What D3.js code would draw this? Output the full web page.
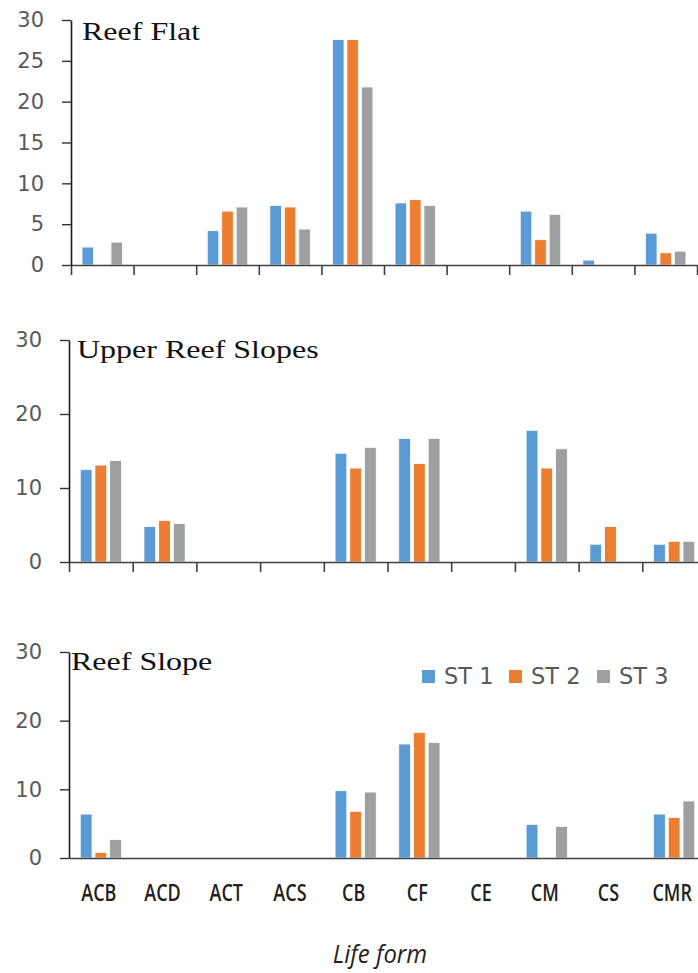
<!DOCTYPE html>
<html>
<head>
<meta charset="utf-8">
<script src="https://cdn.jsdelivr.net/npm/d3@7"></script>
<style>
  html, body { margin: 0; padding: 0; background: #fff; }
  svg { display: block; }
</style>
</head>
<body>
<svg id="chart" width="698" height="973"></svg>
<script>
// ---------------- DATA ----------------
const categories = ["ACB", "ACD", "ACT", "ACS", "CB", "CF", "CE", "CM", "CS", "CMR"];
const seriesNames = ["ST 1", "ST 2", "ST 3"];

const reefFlatST1 = [2.2, 0, 4.2, 7.3, 27.6, 7.6, 0, 6.6, 0.6, 3.9];
const reefFlatST2 = [0, 0, 6.6, 7.1, 27.6, 8.0, 0, 3.1, 0, 1.5];
const reefFlatST3 = [2.8, 0, 7.1, 4.4, 21.8, 7.3, 0, 6.2, 0, 1.7];

const upperSlopeST1 = [12.5, 4.8, 0, 0, 14.7, 16.7, 0, 17.8, 2.4, 2.4];
const upperSlopeST2 = [13.1, 5.6, 0, 0, 12.7, 13.3, 0, 12.7, 4.8, 2.8];
const upperSlopeST3 = [13.7, 5.2, 0, 0, 15.5, 16.7, 0, 15.3, 0, 2.8];

const reefSlopeST1 = [6.4, 0, 0, 0, 9.8, 16.6, 0, 4.9, 0, 6.4];
const reefSlopeST2 = [0.8, 0, 0, 0, 6.8, 18.3, 0, 0, 0, 5.9];
const reefSlopeST3 = [2.7, 0, 0, 0, 9.6, 16.8, 0, 4.6, 0, 8.3];

const panelTitles = ["Reef Flat", "Upper Reef Slopes", "Reef Slope"];
const yTicksFlat = [0, 5, 10, 15, 20, 25, 30];
const yTicksSlope = [0, 10, 20, 30];
const xAxisTitle = "Life form";

// ---------------- LAYOUT ----------------
const colors = ["#5b9bd5", "#ed7d31", "#9d9fa0"];
const panels = [
  { title: panelTitles[0], series: [reefFlatST1, reefFlatST2, reefFlatST3], ticks: yTicksFlat,
    left: 71, right: 697, y0: 265, yTop: 20, xTicks: true, tx: 82, ty: 40 },
  { title: panelTitles[1], series: [upperSlopeST1, upperSlopeST2, upperSlopeST3], ticks: yTicksSlope,
    left: 69, right: 706, y0: 562, yTop: 340, xTicks: true, tx: 77, ty: 358 },
  { title: panelTitles[2], series: [reefSlopeST1, reefSlopeST2, reefSlopeST3], ticks: yTicksSlope,
    left: 69, right: 706, y0: 858, yTop: 652, xTicks: false, tx: 71, ty: 670 }
];

const svg = d3.select("#chart");
svg.append("rect").attr("width", 698).attr("height", 973).attr("fill", "#fff");

let lastX = null;
panels.forEach((p) => {
  const g = svg.append("g");
  const x0 = d3.scaleBand().domain(categories).range([p.left, p.right]).padding(0);
  const pad = x0.step() * 0.165;
  const x1 = d3.scaleBand().domain(seriesNames).range([pad, x0.step() - pad])
    .paddingInner(0.2).paddingOuter(0.05);
  const y = d3.scaleLinear().domain([0, 30]).range([p.y0, p.yTop]);
  lastX = x0;

  // bars
  seriesNames.forEach((s, si) => {
    g.append("g").selectAll("rect")
      .data(categories.map((c, ci) => ({ c, v: p.series[si][ci] })).filter(d => d.v > 0))
      .join("rect")
      .attr("x", d => x0(d.c) + x1(s))
      .attr("width", x1.bandwidth())
      .attr("y", d => y(d.v))
      .attr("height", d => y(0) - y(d.v))
      .attr("fill", colors[si])
      .attr("stroke", "#ffffff")
      .attr("stroke-width", 0.8);
  });

  // x axis (boundaries)
  const idx = d3.scaleLinear().domain([0, categories.length]).range([p.left, p.right]);
  const xAxis = d3.axisBottom(idx)
    .tickValues(p.xTicks ? d3.range(0, categories.length + 1) : [])
    .tickFormat("").tickSize(10).tickSizeOuter(0);
  const xg = g.append("g").attr("transform", `translate(0,${p.y0})`).call(xAxis);
  xg.select(".domain").attr("stroke", "#404040").attr("stroke-width", 1.6);
  xg.selectAll(".tick line").attr("stroke", "#404040").attr("stroke-width", 1.6);

  // y axis
  const yAxis = d3.axisLeft(y).tickValues(p.ticks).tickSize(9).tickSizeOuter(0).tickPadding(18);
  const yg = g.append("g").attr("transform", `translate(${p.left},0)`).call(yAxis);
  yg.select(".domain").attr("stroke", "#1a1a1a").attr("stroke-width", 1.6);
  yg.selectAll(".tick line").attr("stroke", "#333").attr("stroke-width", 1.4);
  yg.selectAll(".tick text")
    .attr("font-family", "'DejaVu Sans', sans-serif")
    .attr("font-size", 21).attr("fill", "#595959");

  // title (horizontally stretched serif)
  g.append("text")
    .attr("transform", `translate(${p.tx},${p.ty}) scale(1.28,1)`)
    .attr("font-family", "'Liberation Serif', 'Times New Roman', serif")
    .attr("font-size", 25).attr("fill", "#111")
    .text(p.title);
});

// category labels (condensed humanist sans)
svg.append("g").selectAll("text")
  .data(categories)
  .join("text")
  .attr("transform", d => `translate(${lastX(d) + lastX.bandwidth() / 2 - 2},901) scale(0.8,1)`)
  .attr("text-anchor", "middle")
  .attr("font-family", "'Open Sans', sans-serif")
  .attr("font-size", 22.5)
  .attr("font-weight", 600)
  .attr("fill", "#231f20")
  .text(d => d);

// axis title
svg.append("text")
  .attr("transform", "translate(380,963) scale(0.92,1)")
  .attr("text-anchor", "middle")
  .attr("font-family", "'Open Sans', sans-serif")
  .attr("font-style", "italic")
  .attr("font-size", 26)
  .attr("fill", "#231f20")
  .text(xAxisTitle);

// legend
const legendX = [422, 509, 597];
const lg = svg.append("g");
seriesNames.forEach((s, i) => {
  lg.append("rect").attr("x", legendX[i]).attr("y", 670).attr("width", 13).attr("height", 13)
    .attr("fill", colors[i]);
  lg.append("text").attr("x", legendX[i] + 22).attr("y", 684)
    .attr("font-family", "'DejaVu Sans', sans-serif")
    .attr("font-size", 22.5).attr("fill", "#595959")
    .text(s);
});
</script>
</body>
</html>
